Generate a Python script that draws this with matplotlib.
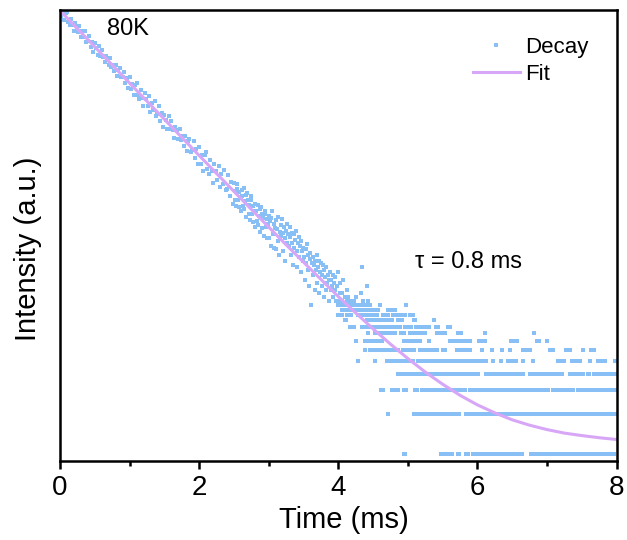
import numpy as np
import matplotlib.pyplot as plt
from matplotlib.ticker import MultipleLocator, NullLocator

plt.rcParams['font.family'] = ['Liberation Sans', 'DejaVu Sans']

# decay counts, t = 0.00 ... 2.48 ms every 0.02 ms
early_counts = [
    2050, 1899, 2029, 1748, 1968, 2010, 1711, 1616, 1797, 1620,
    1451, 1682, 1564, 1421, 1590, 1309, 1444, 1313, 1465, 1211,
    1218, 1335, 1111, 1212, 1023, 1176, 1092, 971, 1132, 953,
    1048, 936, 847, 953, 913, 812, 910, 789, 818, 727,
    809, 677, 748, 765, 656, 660, 723, 595, 650, 548,
    659, 534, 589, 480, 576, 597, 481, 449, 526, 461,
    398, 497, 454, 400, 473, 364, 423, 373, 437, 340,
    347, 398, 310, 355, 281, 345, 314, 271, 337, 269,
    309, 267, 233, 279, 265, 228, 269, 222, 238, 203,
    241, 184, 219, 229, 182, 188, 219, 164, 191, 147,
    198, 147, 173, 130, 171, 181, 135, 124, 157, 132,
    107, 148, 132, 112, 143, 99, 124, 105, 133, 94,
    96, 122, 85, 108, 74,
]

# decay counts, t = 2.50 ... 3.99 ms every 0.01 ms
mid_counts = [
    106, 80, 93, 72, 96, 104, 80, 70, 92, 83,
    66, 95, 85, 72, 98, 68, 78, 59, 86, 90,
    80, 62, 73, 56, 79, 85, 63, 54, 72, 66,
    50, 74, 66, 55, 73, 52, 60, 46, 68, 71,
    62, 49, 58, 43, 62, 66, 50, 41, 57, 53,
    60, 41, 55, 36, 58, 66, 44, 35, 53, 49,
    34, 56, 48, 39, 59, 31, 46, 52, 43, 57,
    45, 33, 50, 41, 28, 47, 53, 38, 44, 36,
    50, 42, 31, 45, 38, 26, 44, 35, 40, 47,
    33, 25, 38, 42, 30, 36, 23, 39, 33, 28,
    35, 30, 20, 34, 27, 37, 24, 31, 18, 29,
    32, 13, 27, 22, 30, 26, 17, 28, 24, 31,
    19, 25, 28, 16, 23, 27, 18, 22, 26, 15,
    24, 21, 17, 25, 19, 22, 14, 20, 23, 17,
    20, 18, 22, 15, 19, 17, 21, 14, 18, 23,
]

# low-count tail: time spans (ms) where each photon-count row is filled
row_1 = [(4.95, 4.96), (5.47, 5.53), (5.56, 5.63), (5.72, 5.74), (5.84, 5.86),
         (5.94, 6.08), (6.11, 6.22), (6.27, 6.40), (6.43, 6.57), (6.60, 6.64),
         (6.77, 6.86), (6.89, 6.95), (7.00, 7.07), (7.11, 7.28), (7.31, 7.45),
         (7.48, 7.59), (7.65, 7.72), (7.75, 7.88), (7.92, 7.96)]
row_2 = [(4.71, 4.71), (5.09, 5.12), (5.15, 5.20), (5.25, 5.27), (5.34, 5.50),
         (5.53, 5.74), (5.84, 5.88), (5.91, 6.12), (6.15, 6.44), (6.47, 6.48),
         (6.52, 6.80), (6.83, 7.04), (7.07, 7.28), (7.32, 7.50), (7.53, 7.67),
         (7.72, 7.88), (7.91, 8.00)]
row_3 = [(4.61, 4.65), (4.77, 4.86), (4.94, 4.97), (5.10, 5.13), (5.20, 5.46),
         (5.49, 5.82), (5.89, 6.20), (6.23, 6.47), (6.50, 6.69), (6.72, 6.83),
         (6.86, 6.87), (6.92, 6.95), (7.00, 7.01), (7.09, 7.25), (7.28, 7.38),
         (7.44, 7.48), (7.52, 7.70), (7.73, 7.98)]
row_4 = [(4.86, 4.98), (5.03, 5.04), (5.10, 5.40), (5.43, 5.74), (5.79, 6.01),
         (6.13, 6.40), (6.43, 6.66), (6.76, 6.94), (6.97, 7.16), (7.21, 7.22),
         (7.33, 7.43), (7.46, 7.52), (7.59, 7.60), (7.67, 7.86), (7.90, 7.98)]
row_5 = [(4.29, 4.29), (4.53, 4.53), (4.70, 4.89), (4.93, 5.08), (5.15, 5.40),
         (5.43, 5.63), (5.68, 5.88), (5.91, 6.09), (6.13, 6.13), (6.23, 6.23),
         (6.34, 6.34), (6.44, 6.56), (6.65, 6.65), (6.80, 6.80), (7.16, 7.16),
         (7.19, 7.24), (7.36, 7.48), (7.62, 7.62), (7.74, 7.77), (7.83, 7.83),
         (7.98, 7.99)]
row_6 = [(4.38, 4.38), (4.46, 4.53), (4.58, 4.72), (4.77, 4.86), (4.93, 5.09),
         (5.17, 5.42), (5.51, 5.53), (5.71, 5.89), (6.06, 6.06), (6.21, 6.21),
         (6.36, 6.36), (6.47, 6.47), (6.66, 6.75), (7.04, 7.09), (7.28, 7.33),
         (7.52, 7.52), (7.64, 7.67)]
row_7 = [(4.26, 4.26), (4.38, 4.63), (4.94, 5.18), (5.31, 5.31), (5.60, 5.70),
         (5.77, 5.89), (6.03, 6.05), (6.11, 6.11), (6.49, 6.57), (6.85, 6.88),
         (7.00, 7.00)]
row_8 = [(4.43, 4.43), (4.53, 4.82), (4.90, 4.95), (5.03, 5.24), (5.42, 5.53),
         (5.72, 5.76), (6.11, 6.11), (6.81, 6.81)]
row_9 = [(4.17, 4.22), (4.34, 4.60), (4.65, 4.89), (4.96, 5.05), (5.12, 5.30),
         (5.40, 5.44), (5.58, 5.60)]
row_10 = [(4.10, 4.11), (4.41, 4.77), (4.86, 4.91), (5.09, 5.10), (5.37, 5.37)]
row_11 = [(4.00, 4.05), (4.12, 4.19), (4.29, 4.55), (4.65, 4.72), (4.79, 4.96),
          (5.03, 5.08)]
row_12 = [(4.05, 4.34), (4.38, 4.57), (4.72, 4.82)]
row_13 = [(4.00, 4.12), (4.16, 4.24), (4.27, 4.30), (4.32, 4.45), (4.60, 4.60),
          (4.98, 4.98)]
row_14 = [(4.00, 4.06), (4.12, 4.22), (4.36, 4.36), (4.43, 4.43)]
row_15 = [(4.09, 4.14), (4.25, 4.25)]
row_16 = [(4.03, 4.05), (4.33, 4.33)]

# a few isolated high points
extra_t = [4.02, 4.07, 4.12, 4.34, 4.42]
extra_y = [19, 20, 17, 25, 18]

# single exponential fit, tau = 0.8 ms
fit_t = [0, 0.25, 0.5, 0.75, 1.0, 1.25, 1.5, 1.75, 2.0, 2.25, 2.5, 2.75, 3.0,
         3.25, 3.5, 3.75, 4.0, 4.25, 4.5, 4.75, 5.0, 5.25, 5.5, 5.75, 6.0,
         6.25, 6.5, 6.75, 7.0, 7.25, 7.5, 7.75, 8.0]
fit_y = [2071, 1515, 1109, 812, 594, 435, 319, 233.5, 171, 125.5, 92.2, 67.7,
         49.9, 36.8, 27.3, 20.3, 15.1, 11.4, 8.66, 6.66, 5.20, 4.12, 3.34, 2.76,
         2.34, 2.04, 1.81, 1.65, 1.53, 1.44, 1.38, 1.33, 1.29]

rows = {1: row_1, 2: row_2, 3: row_3, 4: row_4, 5: row_5, 6: row_6, 7: row_7,
        8: row_8, 9: row_9, 10: row_10, 11: row_11, 12: row_12, 13: row_13,
        14: row_14, 15: row_15, 16: row_16}

blue = '#88c0f6'
purple = '#d7a6f6'

# assemble scatter
t_all = list(np.arange(len(early_counts)) * 0.02) + list(2.5 + np.arange(len(mid_counts)) * 0.01)
y_all = list(early_counts) + list(mid_counts)
for level, spans in rows.items():
    for a, b in spans:
        ts = np.arange(a, b + 0.005, 0.01)
        t_all += list(ts)
        y_all += [level] * len(ts)
t_all += extra_t
y_all += extra_y

fig = plt.figure(figsize=(6.27, 5.40), dpi=100)
ax = fig.add_axes([0.0957, 0.1469, 0.8876, 0.8337])

ax.plot(t_all, y_all, linestyle='none', marker='s', ms=2.4, mew=0,
        color=blue, label='Decay')
ax.plot(fit_t, fit_y, color=purple, lw=2.2, label='Fit')

ax.set_yscale('log')
ax.set_ylim(0.896, 2073)
ax.set_xlim(0, 8)
ax.yaxis.set_major_locator(NullLocator())
ax.yaxis.set_minor_locator(NullLocator())
ax.xaxis.set_major_locator(MultipleLocator(2))
ax.xaxis.set_minor_locator(MultipleLocator(1))
ax.tick_params(axis='x', which='major', direction='out', length=6, width=1.8,
               labelsize=20, pad=4)
ax.tick_params(axis='x', which='minor', direction='out', length=3.5, width=1.8)
for s in ax.spines.values():
    s.set_linewidth(1.8)

ax.set_xlabel('Time (ms)', fontsize=21)
ax.xaxis.set_label_coords(0.51, -0.1)
ax.set_ylabel('Intensity (a.u.)', fontsize=21)
ax.yaxis.set_label_coords(-0.033, 0.47)

ax.text(0.084, 0.959, '80K', transform=ax.transAxes, fontsize=17,
        ha='left', va='center')
ax.text(0.638, 0.441, 'τ = 0.8 ms', transform=ax.transAxes, fontsize=17,
        ha='left', va='center')

leg = ax.legend(loc='upper left', bbox_to_anchor=(0.742, 0.942), frameon=False,
                fontsize=16, handlelength=2.1, handletextpad=0.25,
                labelspacing=0.3, borderpad=0, borderaxespad=0,
                markerscale=1.0, numpoints=1)

fig.savefig('out.png', dpi=100)
